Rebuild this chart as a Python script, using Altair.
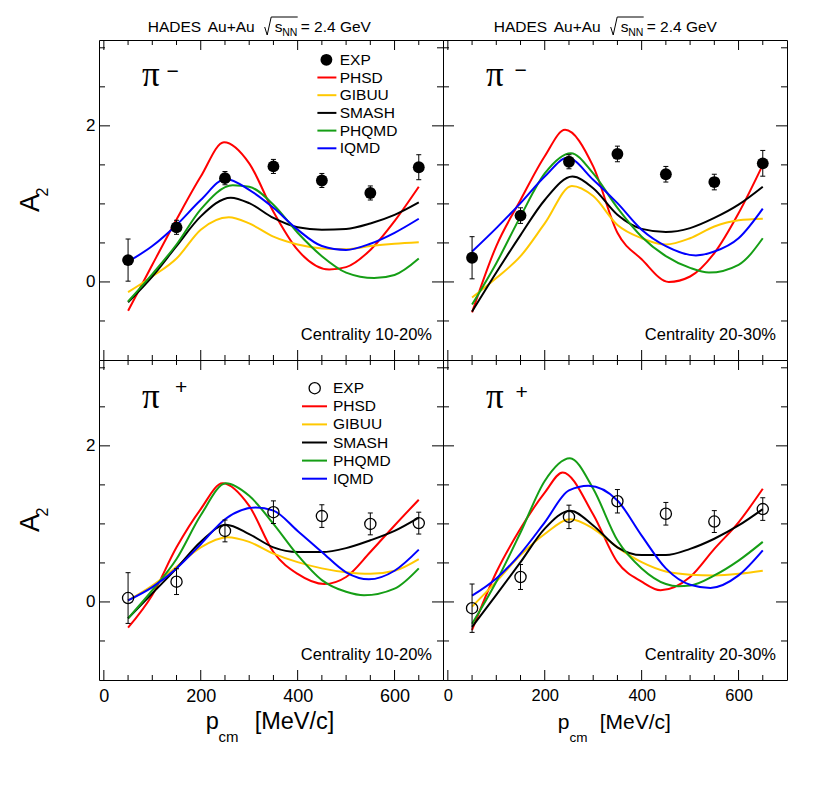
import altair as alt
import pandas as pd

SANS = "Liberation Sans"
SERIF = "Liberation Serif"

MODELS = ["PHSD", "GIBUU", "SMASH", "PHQMD", "IQMD"]
MODEL_COLORS = ["#ff0000", "#ffc800", "#000000", "#159e15", "#0000ff"]

X_EXP = [50, 150, 250, 350, 450, 550, 650]

PIM_1020_EXP = [0.28, 0.70, 1.33, 1.48, 1.30, 1.14, 1.47]
PIM_1020_ERR = [0.27, 0.09, 0.085, 0.09, 0.09, 0.09, 0.16]
PIM_2030_EXP = [0.31, 0.85, 1.54, 1.64, 1.38, 1.28, 1.52]
PIM_2030_ERR = [0.27, 0.10, 0.09, 0.10, 0.10, 0.10, 0.165]
PIP_1020_EXP = [0.05, 0.26, 0.91, 1.15, 1.10, 1.00, 1.01]
PIP_1020_ERR = [0.325, 0.165, 0.14, 0.145, 0.145, 0.14, 0.14]
PIP_2030_EXP = [-0.08, 0.32, 1.09, 1.29, 1.13, 1.03, 1.19]
PIP_2030_ERR = [0.31, 0.16, 0.15, 0.15, 0.145, 0.14, 0.145]

PIM_1020_PHSD = [(50, -0.37), (100, 0.22), (150, 0.80), (200, 1.35), (248, 1.79), (300, 1.52), (350, 0.90), (400, 0.41), (465, 0.16), (500, 0.19), (550, 0.41), (600, 0.78), (650, 1.22)]
PIM_1020_GIBUU = [(50, -0.13), (100, 0.07), (150, 0.30), (200, 0.67), (258, 0.83), (300, 0.75), (350, 0.58), (400, 0.48), (450, 0.43), (500, 0.42), (550, 0.46), (600, 0.49), (650, 0.51)]
PIM_1020_SMASH = [(50, -0.26), (100, 0.07), (150, 0.46), (200, 0.84), (262, 1.08), (300, 1.01), (350, 0.82), (400, 0.70), (450, 0.67), (500, 0.68), (550, 0.75), (600, 0.86), (650, 1.02)]
PIM_1020_PHQMD = [(50, -0.25), (100, 0.10), (150, 0.48), (200, 0.93), (266, 1.24), (300, 1.22), (350, 0.99), (400, 0.63), (450, 0.33), (500, 0.12), (558, 0.05), (600, 0.09), (650, 0.30)]
PIM_1020_IQMD = [(50, 0.26), (100, 0.46), (150, 0.73), (200, 1.05), (252, 1.32), (300, 1.18), (350, 0.95), (400, 0.67), (450, 0.46), (500, 0.41), (550, 0.49), (600, 0.63), (650, 0.81)]

PIM_2030_PHSD = [(50, -0.39), (100, 0.46), (150, 1.05), (200, 1.61), (242, 1.95), (300, 1.48), (350, 0.63), (400, 0.29), (456, 0.0), (500, 0.07), (550, 0.37), (600, 0.88), (650, 1.50)]
PIM_2030_GIBUU = [(50, -0.20), (100, 0.05), (150, 0.33), (200, 0.75), (256, 1.23), (300, 1.10), (350, 0.73), (400, 0.56), (450, 0.48), (500, 0.56), (550, 0.71), (600, 0.79), (650, 0.81)]
PIM_2030_SMASH = [(50, -0.38), (100, 0.12), (150, 0.60), (200, 1.05), (257, 1.35), (300, 1.20), (350, 0.86), (400, 0.68), (450, 0.64), (500, 0.69), (550, 0.82), (600, 0.99), (650, 1.22)]
PIM_2030_PHQMD = [(50, -0.29), (100, 0.24), (150, 0.84), (200, 1.39), (254, 1.65), (300, 1.39), (350, 0.95), (400, 0.58), (450, 0.33), (500, 0.18), (539, 0.12), (600, 0.22), (650, 0.56)]
PIM_2030_IQMD = [(50, 0.39), (100, 0.69), (150, 1.01), (200, 1.35), (247, 1.59), (300, 1.31), (350, 1.01), (400, 0.67), (450, 0.46), (512, 0.34), (550, 0.39), (600, 0.56), (650, 0.94)]

PIP_1020_PHSD = [(50, -0.33), (100, 0.09), (150, 0.70), (200, 1.19), (245, 1.52), (300, 1.23), (350, 0.64), (400, 0.36), (455, 0.23), (500, 0.32), (550, 0.64), (600, 0.98), (650, 1.31)]
PIP_1020_GIBUU = [(50, 0.02), (100, 0.21), (150, 0.45), (200, 0.70), (255, 0.83), (300, 0.77), (350, 0.62), (400, 0.51), (450, 0.43), (500, 0.38), (550, 0.36), (600, 0.40), (650, 0.55)]
PIP_1020_SMASH = [(50, -0.21), (100, 0.11), (150, 0.43), (200, 0.77), (252, 0.99), (300, 0.87), (350, 0.70), (400, 0.64), (450, 0.64), (500, 0.69), (550, 0.79), (600, 0.91), (650, 1.08)]
PIP_1020_PHQMD = [(50, -0.21), (100, 0.15), (150, 0.55), (200, 1.11), (252, 1.52), (300, 1.36), (350, 1.00), (400, 0.60), (450, 0.28), (500, 0.13), (537, 0.085), (600, 0.17), (650, 0.43)]
PIP_1020_IQMD = [(50, 0.02), (100, 0.19), (150, 0.43), (200, 0.74), (250, 1.06), (313, 1.21), (350, 1.17), (400, 0.91), (450, 0.64), (500, 0.38), (547, 0.29), (600, 0.40), (650, 0.67)]

PIP_2030_PHSD = [(50, -0.36), (100, 0.38), (150, 0.94), (200, 1.40), (237, 1.66), (300, 1.12), (350, 0.51), (400, 0.26), (439, 0.15), (500, 0.32), (550, 0.68), (600, 1.02), (650, 1.45)]
PIP_2030_GIBUU = [(50, -0.06), (100, 0.26), (150, 0.60), (200, 0.87), (253, 1.06), (300, 0.94), (350, 0.70), (400, 0.51), (450, 0.39), (500, 0.35), (550, 0.34), (600, 0.36), (650, 0.40)]
PIP_2030_SMASH = [(50, -0.32), (100, 0.09), (150, 0.51), (200, 0.94), (253, 1.17), (300, 0.98), (350, 0.70), (400, 0.60), (450, 0.60), (500, 0.68), (550, 0.81), (600, 0.98), (650, 1.19)]
PIP_2030_PHQMD = [(50, -0.28), (100, 0.26), (150, 0.89), (200, 1.55), (252, 1.84), (300, 1.45), (350, 0.79), (400, 0.43), (450, 0.23), (475, 0.20), (500, 0.21), (550, 0.34), (600, 0.53), (650, 0.77)]
PIP_2030_IQMD = [(50, 0.08), (100, 0.30), (150, 0.62), (200, 1.02), (250, 1.43), (290, 1.49), (350, 1.30), (400, 0.85), (450, 0.43), (500, 0.22), (542, 0.18), (600, 0.34), (650, 0.66)]

X_LABELS = [0, 200, 400, 600]
Y_LABELS = [0, 2]
X_MAJOR = [0, 200, 400, 600]
X_MINOR = [50, 100, 150, 250, 300, 350, 450, 500, 550, 650]
Y_MAJOR = [0, 2]
Y_MINOR = [-0.5, 0.5, 1, 1.5, 2.5, 3]
X_DOMAIN = [-10, 700]
Y_DOMAIN = [-1, 3.1]

W, H = 344, 320
ONE = pd.DataFrame({"k": [0]})
XS = alt.Scale(domain=X_DOMAIN, nice=False, zero=False)
YS = alt.Scale(domain=Y_DOMAIN, nice=False, zero=False)


def label(s, x, y, size, align="left", font=SANS, baseline="alphabetic", angle=None):
    kw = dict(align=align, baseline=baseline, font=font, fontSize=size, color="black")
    if angle is not None:
        kw["angle"] = angle
    return alt.Chart(ONE).mark_text(**kw).encode(
        x=alt.value(x), y=alt.value(y), text=alt.value(s))


def seg(x1, y1, x2, y2, color="black", width=1.0):
    return alt.Chart(ONE).mark_rule(color=color, strokeWidth=width).encode(
        x=alt.value(x1), y=alt.value(y1), x2=alt.value(x2), y2=alt.value(y2))


def marker(x, y, filled):
    if filled:
        m = alt.Chart(ONE).mark_point(shape="circle", size=140, filled=True, color="black", opacity=1)
    else:
        m = alt.Chart(ONE).mark_point(shape="circle", size=125, filled=False, color="black",
                                      strokeWidth=1.3, opacity=1)
    return m.encode(x=alt.value(x), y=alt.value(y))


def legend(filled, mx, my, lx1, lx2, tx, dy, size):
    out = [marker(mx, my, filled), label("EXP", tx, my, size, baseline="middle")]
    for i, (m, c) in enumerate(zip(MODELS, MODEL_COLORS)):
        yy = my + (i + 1) * dy
        out.append(seg(lx1, yy, lx2, yy, c, 2))
        out.append(label(m, tx, yy, size, baseline="middle"))
    return out


def header(x0):
    yb = -8
    fs = 15.5
    out = [
        label("HADES", x0, yb, fs),
        label("Au+Au", x0 + 60, yb, fs),
        label("s", x0 + 127, yb, fs),
        label("NN", x0 + 134.5, yb + 4, 10.5),
        label("= 2.4 GeV", x0 + 153, yb, fs),
    ]
    xr = x0 + 117
    out += [
        seg(xr, yb - 5, xr + 2.5, yb + 3),
        seg(xr + 2.5, yb + 3, xr + 6.5, yb - 15),
        seg(xr + 6.5, yb - 15, x0 + 150, yb - 15),
    ]
    return out


def xtitle(px, sub_x, unit_x, fs, sub_fs):
    return [
        label("p", px, 368.5, fs),
        label("cm", sub_x, 382, sub_fs),
        label("[MeV/c]", unit_x, 368.5, fs),
    ]


def ytitle():
    return [
        label("A", -60.3, 163, 27, align="center", angle=270),
        label("2", -51, 152, 16, align="center", angle=270),
    ]


def panel(exp, err, curves, filled, sign, sign_xy, centrality, is_left, is_bottom, extra):
    xaxis = (alt.Axis(values=X_LABELS, ticks=False, domain=False, grid=False,
                      labelFontSize=18 if is_left else 16.5, labelPadding=7, title=None,
                      labelFont=SANS, labelColor="black")
             if is_bottom else None)
    yaxis = (alt.Axis(values=Y_LABELS, ticks=False, domain=False, grid=False,
                      labelFontSize=17, labelPadding=4, title=None,
                      labelFont=SANS, labelColor="black")
             if is_left else None)

    def X(f):
        return alt.X(f, type="quantitative", scale=XS, axis=xaxis)

    def Y(f):
        return alt.Y(f, type="quantitative", scale=YS, axis=yaxis)

    layers = []
    for vals, ln in ((X_MAJOR, 10), (X_MINOR, 5)):
        d = pd.DataFrame({"v": vals})
        layers.append(alt.Chart(d).mark_rule(color="black", strokeWidth=1).encode(
            x=X("v"), y=alt.value(H), y2=alt.value(H - ln)))
        layers.append(alt.Chart(d).mark_rule(color="black", strokeWidth=1).encode(
            x=X("v"), y=alt.value(0), y2=alt.value(ln)))
    for vals, ln in ((Y_MAJOR, 11), (Y_MINOR, 6)):
        d = pd.DataFrame({"v": vals})
        layers.append(alt.Chart(d).mark_rule(color="black", strokeWidth=1).encode(
            y=Y("v"), x=alt.value(0), x2=alt.value(ln)))
        layers.append(alt.Chart(d).mark_rule(color="black", strokeWidth=1).encode(
            y=Y("v"), x=alt.value(W), x2=alt.value(W - ln)))

    rows = []
    for m in MODELS:
        for i, (x, y) in enumerate(curves[m]):
            rows.append({"model": m, "x": x, "y": y, "i": i})
    layers.append(alt.Chart(pd.DataFrame(rows)).mark_line(strokeWidth=2, interpolate="monotone").encode(
        x=X("x"), y=Y("y"),
        color=alt.Color("model:N", scale=alt.Scale(domain=MODELS, range=MODEL_COLORS), legend=None),
        order=alt.Order("i:Q")))

    e = pd.DataFrame({"x": X_EXP, "y": exp,
                      "lo": [v - s for v, s in zip(exp, err)],
                      "hi": [v + s for v, s in zip(exp, err)]})
    layers.append(alt.Chart(e).mark_rule(color="black", strokeWidth=1).encode(
        x=X("x"), y=Y("lo"), y2=alt.Y2("hi")))
    for f in ("lo", "hi"):
        layers.append(alt.Chart(e).mark_rule(color="black", strokeWidth=1, xOffset=-2.5, x2Offset=2.5).encode(
            x=X("x"), x2=alt.X2("x"), y=Y(f)))
    if filled:
        pts = alt.Chart(e).mark_point(shape="circle", size=140, filled=True, color="black", opacity=1)
    else:
        pts = alt.Chart(e).mark_point(shape="circle", size=125, filled=False, color="black",
                                      strokeWidth=1.3, opacity=1)
    layers.append(pts.encode(x=X("x"), y=Y("y")))

    layers.append(label("\u03c0", 43.0, 46 if sign == "\u2212" else 47.5, 35, font=SERIF))
    layers.append(label(sign, sign_xy[0], sign_xy[1], 21, align="center", font=SANS, baseline="middle"))
    layers.append(label(centrality, 333, 299.5, 16.5, align="right"))
    layers += extra
    return alt.layer(*layers).properties(width=W, height=H)


def curves_of(a, b, c, d, e):
    return dict(zip(MODELS, [a, b, c, d, e]))


TL = panel(PIM_1020_EXP, PIM_1020_ERR,
           curves_of(PIM_1020_PHSD, PIM_1020_GIBUU, PIM_1020_SMASH, PIM_1020_PHQMD, PIM_1020_IQMD),
           True, "\u2212", (73.5, 32.2), "Centrality 10-20%", True, False,
           legend(True, 227.4, 19.8, 218.4, 237.4, 240.7, 17.7, 15.5) + header(48.7) + ytitle())
TR = panel(PIM_2030_EXP, PIM_2030_ERR,
           curves_of(PIM_2030_PHSD, PIM_2030_GIBUU, PIM_2030_SMASH, PIM_2030_PHQMD, PIM_2030_IQMD),
           True, "\u2212", (77.7, 30.5), "Centrality 20-30%", False, False,
           header(50.7))
BL = panel(PIP_1020_EXP, PIP_1020_ERR,
           curves_of(PIP_1020_PHSD, PIP_1020_GIBUU, PIP_1020_SMASH, PIP_1020_PHQMD, PIP_1020_IQMD),
           False, "+", (82.0, 27.5), "Centrality 10-20%", True, True,
           legend(False, 215.7, 28.2, 203, 228, 234, 18.1, 15.5) + xtitle(106.7, 119.5, 155.7, 23.5, 15) + ytitle())
BR = panel(PIP_2030_EXP, PIP_2030_ERR,
           curves_of(PIP_2030_PHSD, PIP_2030_GIBUU, PIP_2030_SMASH, PIP_2030_PHQMD, PIP_2030_IQMD),
           False, "+", (78.7, 32.5), "Centrality 20-30%", False, True,
           xtitle(114.7, 126.5, 156.7, 21, 13.5))

chart = alt.concat(TL, TR, BL, BR, columns=2, spacing=0, bounds="flush").properties(
    padding={"left": 8, "top": 8, "right": 5, "bottom": 5},
    background="white",
).configure_view(stroke="black", strokeWidth=1)

chart.save("out.html", embed_options={"renderer": "svg", "actions": False})
